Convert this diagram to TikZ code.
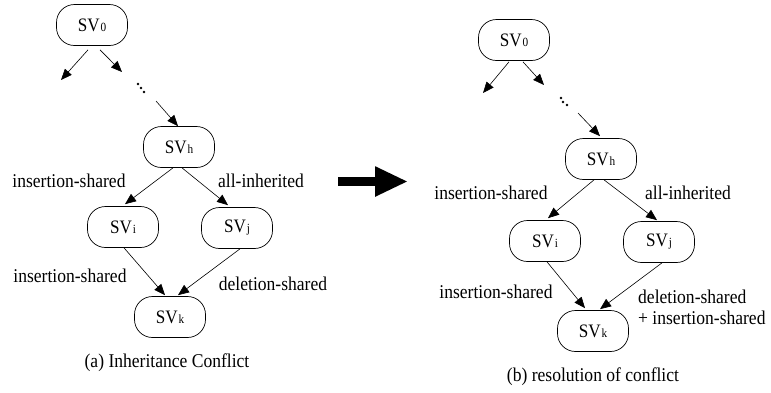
\documentclass[tikz,border=0pt]{standalone}
\usepackage{fontspec}
\setmainfont{Liberation Serif}[FakeStretch=0.9]
\usetikzlibrary{arrows.meta}
\newcommand{\svsub}[1]{SV\kern1pt{\fontsize{12.5}{13}\selectfont #1}}
\tikzset{
  sv/.style={draw, line width=0.7pt, rounded corners=18pt, minimum width=71pt, minimum height=41pt, inner sep=0pt, font=\fontsize{19}{21}\selectfont},
  lbl/.style={inner sep=0pt, font=\fontsize{19.5}{21}\selectfont},
  edge/.style={line width=0.6pt, -{Triangle[length=11pt,width=9pt]}},
  dot/.style={fill=black, draw=none}
}
\begin{document}
\begin{tikzpicture}[x=1pt,y=-1pt]
\useasboundingbox (0,0) rectangle (771,392);
% ---------- left diagram ----------
\node[sv] (a0) at (92,25) {\svsub{0}};
\node[sv] (ah) at (179,147) {\svsub{h}};
\node[sv] (ai) at (123,227) {\svsub{i}};
\node[sv] (aj) at (237,228) {\svsub{j}};
\node[sv] (ak) at (170,317) {\svsub{k}};
\coordinate (al) at (61,80);
\coordinate (ar) at (122,72);
\coordinate (ad) at (156,101);
\fill[dot] (138,84) circle (1.3pt) (141,88) circle (1.3pt) (144,92) circle (1.3pt);
\draw[edge] ([xshift=-4pt,yshift=-4pt]a0.south) -- (al);
\draw[edge] ([xshift=8pt,yshift=-4pt]a0.south) -- (ar);
\draw[edge] (ad) -- ([xshift=-1pt]ah.north);
\draw[edge] ([xshift=-6pt]ah.south) -- ([xshift=2pt,yshift=2pt]ai.north);
\draw[edge] ([xshift=3pt]ah.south) -- ([xshift=-9pt,yshift=2pt]aj.north);
\draw[edge] ([xshift=1pt]ai.south) -- ([xshift=-5pt,yshift=1pt]ak.north);
\draw[edge] ([xshift=3pt]aj.south) -- ([xshift=8pt,yshift=1pt]ak.north);
\node[lbl] (la1) at (69,181) {insertion-shared};
\node[lbl] (la2) at (261,181) {all-inherited};
\node[lbl] (la3) at (70,276) {insertion-shared};
\node[lbl] (la4) at (273,284) {deletion-shared};
\node[lbl] (capa) at (167,363) {(a) Inheritance Conflict};
% ---------- big arrow ----------
\coordinate (bs) at (338,181.5);
\coordinate (be) at (408,181.5);
\draw[line width=9pt, -{Triangle[length=33pt,width=28pt]}] (bs) -- (be);
% ---------- right diagram ----------
\node[sv] (b0) at (514,40) {\svsub{0}};
\node[sv] (bh) at (601,159) {\svsub{h}};
\node[sv] (bi) at (545,241) {\svsub{i}};
\node[sv] (bj) at (659,242) {\svsub{j}};
\node[sv] (bk) at (593,331) {\svsub{k}};
\coordinate (bl) at (483,93);
\coordinate (br) at (544,85);
\coordinate (bd) at (578,113);
\fill[dot] (561,98) circle (1.3pt) (563,102) circle (1.3pt) (567,105) circle (1.3pt);
\draw[edge] ([xshift=-5pt,yshift=-1pt]b0.south) -- (bl);
\draw[edge] ([xshift=9pt,yshift=-1pt]b0.south) -- (br);
\draw[edge] (bd) -- ([xshift=-1pt,yshift=2pt]bh.north);
\draw[edge] ([xshift=-7pt]bh.south) -- ([xshift=3pt,yshift=2pt]bi.north);
\draw[edge] ([xshift=3pt]bh.south) -- ([xshift=-2pt,yshift=1pt]bj.north);
\draw[edge] ([xshift=2pt]bi.south) -- ([xshift=-8pt,yshift=2pt]bk.north);
\draw[edge] ([xshift=3pt]bj.south) -- ([xshift=7pt,yshift=1pt]bk.north);
\node[lbl] (lb1) at (491,193) {insertion-shared};
\node[lbl] (lb2) at (688,193) {all-inherited};
\node[lbl] (lb3) at (496,292) {insertion-shared};
\node[lbl, align=left, anchor=west] (lb4) at (638,307) {deletion-shared\\+ insertion-shared};
\node[lbl] (capb) at (593,377) {(b) resolution of conflict};
\end{tikzpicture}
\end{document}
